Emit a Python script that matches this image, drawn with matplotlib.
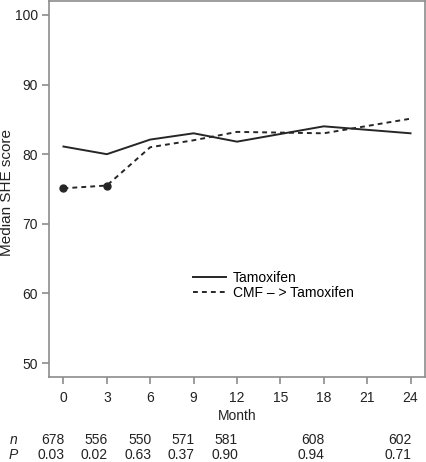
import matplotlib
matplotlib.use("Agg")
import matplotlib.pyplot as plt
import matplotlib.transforms as mtransforms

plt.rcParams['font.family'] = ['Liberation Sans', 'DejaVu Sans']
plt.rcParams['font.size'] = 10

# data
months = [0, 3, 6, 9, 12, 18, 24]
tamoxifen = [81.1, 80.0, 82.1, 83.0, 81.8, 84.0, 83.0]
cmf_tam = [75.1, 75.5, 81.0, 82.0, 83.2, 83.0, 85.1]
signif = [True, True, False, False, False, False, False]
n_vals = ['678', '556', '550', '571', '581', '608', '602']
p_vals = ['0.03', '0.02', '0.63', '0.37', '0.90', '0.94', '0.71']

line_col = '#262626'
axis_col = '#8c8c8c'
text_col = '#222222'

fig = plt.figure(figsize=(4.26, 4.62), dpi=100)
ax = fig.add_axes([49 / 426, 85 / 462, 376 / 426, 376 / 462])

ax.plot(months, tamoxifen, color=line_col, lw=1.4, label='Tamoxifen')
ax.plot(months, cmf_tam, color=line_col, lw=1.4, ls=(0, (2.5, 2.1)),
        label='CMF – > Tamoxifen')
sx = [m for m, s in zip(months, signif) if s]
sy = [v for v, s in zip(cmf_tam, signif) if s]
ax.plot(sx, sy, 'o', color=line_col, ms=5, ls='none')

ax.set_xlim(-1, 25)
ax.set_ylim(48, 102)
ax.set_xticks(range(0, 25, 3))
ax.set_yticks(range(50, 101, 10))
for s in ax.spines.values():
    s.set_color(axis_col)
    s.set_linewidth(1.2)
ax.tick_params(colors=axis_col, labelcolor=text_col, length=5, width=1.2,
               labelsize=10)
ax.tick_params(axis='y', pad=3)
ax.tick_params(axis='x', pad=5)
ax.set_xlabel('Month', color=text_col, labelpad=3)
fig.text(7 / 426, 0.5 * (85 + 461) / 462 - 4 / 462, 'Median SHE score',
         rotation=90, ha='center', va='center', color=text_col, fontsize=11)

ax.legend(loc='upper left', bbox_to_anchor=(0.368, 0.298), frameon=False,
          handlelength=2.4, handletextpad=0.45, labelspacing=0.12,
          fontsize=10, borderaxespad=0)

# n and P rows below the axis
trans = mtransforms.blended_transform_factory(ax.transData, fig.transFigure)
fig.text(10 / 426, 1 - 444 / 462, 'n', style='italic', va='baseline',
         color=text_col)
fig.text(9 / 426, 1 - 459 / 462, 'P', style='italic', va='baseline',
         color=text_col)
for m, nv, pv in zip(months, n_vals, p_vals):
    ax.text(m + 0.07, 1 - 444 / 462, nv, transform=trans, ha='right',
            va='baseline', color=text_col)
    ax.text(m + 0.07, 1 - 459 / 462, pv, transform=trans, ha='right',
            va='baseline', color=text_col)

fig.savefig('out.png', dpi=100)
